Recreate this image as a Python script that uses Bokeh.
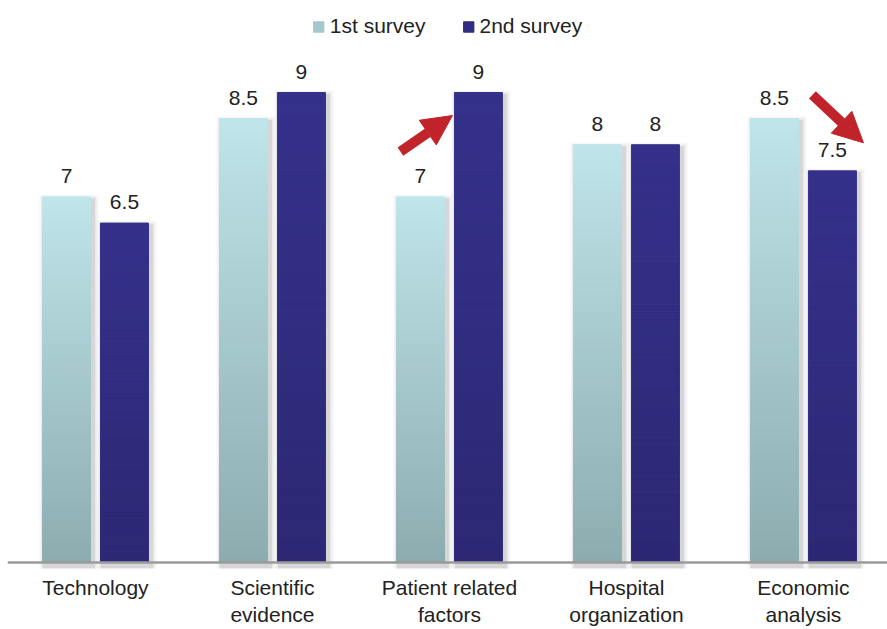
from bokeh.plotting import figure
from bokeh.models import (ColumnDataSource, Range1d, Span, FixedTicker, Legend,
                          LegendItem, Arrow, NormalHead)
from bokeh.core.properties import value
from bokeh.embed import file_html
from bokeh.resources import INLINE

# ---- data -------------------------------------------------------------
categories = ["Technology", "Scientific\nevidence", "Patient related\nfactors",
              "Hospital\norganization", "Economic\nanalysis"]
series_names = ["1st survey", "2nd survey"]
survey1 = [7, 8.5, 7, 8, 8.5]
survey2 = [6.5, 9, 9, 8, 7.5]

# ---- styling ----------------------------------------------------------
FONT = "Liberation Sans"
TEXT = "#222222"
RED = "#C1232B"
grad1 = ("#BFE4E9", "#8CACB0")   # top -> bottom, 1st survey
grad2 = ("#35318B", "#2C2874")   # top -> bottom, 2nd survey

PX_X = 1 / 177.0      # one screen pixel in x data units
PX_Y = 1 / 52.2       # one screen pixel in y data units
BAR_W = 48 * PX_X
OFFSET = 29 * PX_X
N_SLICES = 60


def hex_to_rgb(h):
    h = h.lstrip("#")
    return tuple(int(h[i:i + 2], 16) for i in (0, 2, 4))


def mix(c_top, c_bot, t):
    a, b = hex_to_rgb(c_top), hex_to_rgb(c_bot)
    r = [round(a[i] * (1 - t) + b[i] * t) for i in range(3)]
    return "#%02x%02x%02x" % tuple(r)


p = figure(width=887, height=629, output_backend="svg", toolbar_location=None,
           x_range=Range1d(-0.497, 4.475), y_range=Range1d(-0.115, 10.762),
           y_axis_location=None, min_border_left=7, min_border_right=0,
           min_border_top=0, min_border_bottom=61)
p.outline_line_color = None
p.xgrid.visible = False
p.ygrid.visible = False
p.background_fill_color = "white"
p.border_fill_color = "white"

# ---- soft drop shadows ------------------------------------------------
sh_l, sh_r, sh_b, sh_t = [], [], [], []
for vals, sign in ((survey1, -1), (survey2, 1)):
    for i, v in enumerate(vals):
        cx = i + sign * OFFSET
        sh_l.append(cx - BAR_W / 2)
        sh_r.append(cx + BAR_W / 2)
        sh_b.append(0)
        sh_t.append(v)
for grow, alpha in ((5, 0.05), (3, 0.08), (1.5, 0.12)):
    p.quad(left=[l + (2 - grow) * PX_X for l in sh_l],
           right=[r + (3 + grow) * PX_X for r in sh_r],
           bottom=[b - (6 + grow) * PX_Y for b in sh_b],
           top=[t - (3 - grow) * PX_Y for t in sh_t],
           fill_color="#555555", fill_alpha=alpha, line_color=None)

# ---- gradient bars (stacked thin slices) -----------------------------
bar_renderers = []
for vals, sign, grad in ((survey1, -1, grad1), (survey2, 1, grad2)):
    left, right, bottom, top, color = [], [], [], [], []
    for i, v in enumerate(vals):
        cx = i + sign * OFFSET
        for k in range(N_SLICES):
            left.append(cx - BAR_W / 2)
            right.append(cx + BAR_W / 2)
            bottom.append(v * k / N_SLICES)
            top.append(v * (k + 1) / N_SLICES)
            color.append(mix(grad[0], grad[1], 1 - (k + 0.5) / N_SLICES))
    src = ColumnDataSource(dict(left=left, right=right, bottom=bottom, top=top, color=color))
    r = p.quad(left="left", right="right", bottom="bottom", top="top", source=src,
               fill_color="color", line_color="color", line_width=1)
    bar_renderers.append(r)

# ---- baseline ---------------------------------------------------------
p.add_layout(Span(location=0, dimension="width", line_color="#9A9A9A", line_width=2.5))

# ---- value labels -----------------------------------------------------
lx, ly, lt = [], [], []
for vals, sign in ((survey1, -1), (survey2, 1)):
    for i, v in enumerate(vals):
        lx.append(i + sign * OFFSET)
        ly.append(v)
        lt.append(f"{v:g}")
p.text(x=lx, y=ly, text=lt, text_font=value(FONT), text_font_size="21px",
       text_color=TEXT, text_align="center", text_baseline="alphabetic", y_offset=-21)

# ---- red arrows highlighting the changes ------------------------------
# Patient related factors: rising score
p.add_layout(Arrow(end=NormalHead(size=30, fill_color=RED, line_color=RED),
                   x_start=2 + OFFSET - BAR_W / 2 - 54 * PX_X, y_start=survey2[2] - 59 * PX_Y,
                   x_end=2 + OFFSET - BAR_W / 2 - 2 * PX_X, y_end=survey2[2] - 23 * PX_Y,
                   line_color=RED, line_width=10))
# Economic analysis: falling score
p.add_layout(Arrow(end=NormalHead(size=30, fill_color=RED, line_color=RED),
                   x_start=4 + OFFSET - 20 * PX_X, y_start=survey2[4] + 76 * PX_Y,
                   x_end=4 + OFFSET + 31 * PX_X, y_end=survey2[4] + 28 * PX_Y,
                   line_color=RED, line_width=10))

# ---- category axis ----------------------------------------------------
ax = p.xaxis[0]
ax.ticker = FixedTicker(ticks=list(range(len(categories))))
ax.major_label_overrides = {i: c for i, c in enumerate(categories)}
ax.axis_line_color = None
ax.major_tick_line_color = None
ax.minor_tick_line_color = None
ax.major_tick_in = 0
ax.major_tick_out = 0
ax.major_label_standoff = 7
ax.major_label_text_font = FONT
ax.major_label_text_font_size = "21px"
ax.major_label_text_color = TEXT

# ---- legend (swatch colour taken from the middle of the first bar) ----
items = [LegendItem(label=name, renderers=[r], index=N_SLICES // 2)
         for name, r in zip(series_names, bar_renderers)]
legend = Legend(items=items, orientation="horizontal", location="top_center",
                glyph_width=13, glyph_height=13, label_height=13, label_standoff=5,
                spacing=36, padding=0, margin=14, border_line_color=None,
                background_fill_alpha=0, label_text_font=FONT,
                label_text_font_size="21px", label_text_color=TEXT)
p.add_layout(legend)

open("out.html", "w").write(file_html(p, INLINE))
